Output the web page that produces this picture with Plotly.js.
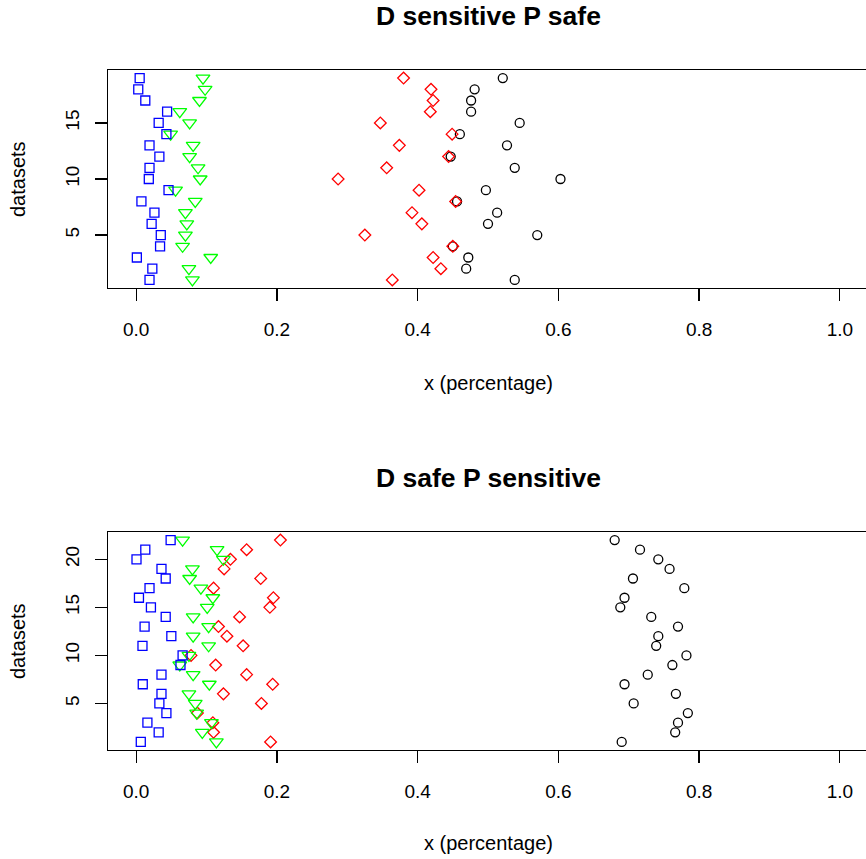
<!DOCTYPE html>
<html>
<head>
<meta charset="utf-8">
<script src="https://cdn.plot.ly/plotly-3.0.1.min.js"></script>
<style>
html, body { margin: 0; padding: 0; overflow: hidden; background: #fff; }
#chart { width: 880px; height: 859px; }
</style>
</head>
<body>
<div id="chart"></div>
<script>
// ---- data ----
const topTitle = "D sensitive P safe";
const bottomTitle = "D safe P sensitive";
const xTitle = "x (percentage)";
const yTitle = "datasets";

const topDatasets = [1,2,3,4,5,6,7,8,9,10,11,12,13,14,15,16,17,18,19];
const topBlue  = [0.019,0.023,0.001,0.034,0.035,0.022,0.026,0.0075,0.046,0.018,0.019,0.033,0.019,0.043,0.032,0.044,0.013,0.003,0.005];
const topGreen = [0.080,0.075,0.106,0.066,0.070,0.072,0.070,0.084,0.056,0.091,0.088,0.076,0.081,0.049,0.076,0.062,0.090,0.098,0.095];
const topRed   = [0.364,0.433,0.422,0.450,0.325,0.406,0.392,0.454,0.402,0.287,0.356,0.444,0.374,0.449,0.347,0.418,0.422,0.419,0.380];
const topBlack = [0.538,0.469,0.472,0.450,0.570,0.500,0.513,0.456,0.497,0.603,0.538,0.447,0.527,0.460,0.545,0.476,0.476,0.481,0.521];

const botDatasets = [1,2,3,4,5,6,7,8,9,10,11,12,13,14,15,16,17,18,19,20,21,22];
const botBlue  = [0.0066,0.032,0.016,0.043,0.033,0.036,0.0094,0.036,0.063,0.066,0.009,0.050,0.012,0.042,0.021,0.004,0.019,0.042,0.036,0.0005,0.013,0.049];
const botGreen = [0.114,0.094,0.107,0.086,0.084,0.075,0.104,0.081,0.062,0.075,0.103,0.081,0.103,0.081,0.101,0.109,0.092,0.076,0.080,0.124,0.115,0.066];
const botRed   = [0.191,0.110,0.109,0.087,0.178,0.124,0.194,0.157,0.113,0.078,0.152,0.129,0.117,0.147,0.190,0.195,0.110,0.177,0.125,0.134,0.157,0.205];
const botBlack = [0.690,0.766,0.770,0.784,0.707,0.767,0.694,0.727,0.762,0.782,0.739,0.742,0.770,0.732,0.688,0.694,0.779,0.706,0.758,0.742,0.716,0.680];

const xTicks = [0.0,0.2,0.4,0.6,0.8,1.0];
const xTickText = ["0.0","0.2","0.4","0.6","0.8","1.0"];
const topYTicks = [5,10,15];
const botYTicks = [5,10,15,20];

// ---- traces ----
const LW = 1.3;
function tr(x, y, symbol, color, size, xa, ya) {
  return {
    type: "scatter", mode: "markers", x: x, y: y, xaxis: xa, yaxis: ya,
    marker: { symbol: symbol, size: size, color: color,
              line: { color: color, width: LW } },
    hoverinfo: "skip", showlegend: false
  };
}
const data = [
  tr(topBlack, topDatasets, "circle-open", "#000000", 9, "x", "y"),
  tr(topRed, topDatasets, "diamond-open", "#FF0000", 9, "x", "y"),
  tr(topGreen, topDatasets, "triangle-down-open", "#00FF00", 12, "x", "y"),
  tr(topBlue, topDatasets, "square-open", "#0000FF", 9, "x", "y"),
  tr(botBlack, botDatasets, "circle-open", "#000000", 9, "x2", "y2"),
  tr(botRed, botDatasets, "diamond-open", "#FF0000", 9, "x2", "y2"),
  tr(botGreen, botDatasets, "triangle-down-open", "#00FF00", 12, "x2", "y2"),
  tr(botBlue, botDatasets, "square-open", "#0000FF", 9, "x2", "y2")
];

const FONT = "Liberation Sans, Arial, Helvetica, sans-serif";
function xaxis(anchor) {
  return {
    anchor: anchor, domain: [0, 1], range: [-0.04, 1.04],
    tickmode: "array", tickvals: xTicks, ticktext: xTickText,
    ticks: "outside", ticklen: 12, tickwidth: 1.3, tickcolor: "#000",
    showline: true, mirror: true, linecolor: "#000", linewidth: 1,
    showgrid: false, zeroline: false,
    tickfont: { family: FONT, size: 19, color: "#000" },
    ticklabelstandoff: 12
  };
}
function yaxis(anchor, domain, range, ticks) {
  return {
    anchor: anchor, domain: domain, range: range,
    tickmode: "array", tickvals: ticks,
    ticks: "outside", ticklen: 12, tickwidth: 1.3, tickcolor: "#000",
    showline: true, mirror: true, linecolor: "#000", linewidth: 1,
    showgrid: false, zeroline: false, tickangle: -90,
    tickfont: { family: FONT, size: 19, color: "#000" },
    ticklabelstandoff: 8
  };
}

function ann(text, x, y, size, bold, angle) {
  return {
    text: bold ? "<b>" + text + "</b>" : text,
    xref: "paper", yref: "paper", x: x, y: y,
    xanchor: "center", yanchor: "middle", showarrow: false,
    textangle: angle || 0,
    font: { family: FONT, size: size, color: "#000" }
  };
}

const layout = {
  width: 880, height: 859,
  margin: { l: 108, r: 12, t: 70, b: 109, pad: 0 },
  paper_bgcolor: "#fff", plot_bgcolor: "#fff",
  showlegend: false,
  xaxis: xaxis("y"),
  yaxis: yaxis("x", [0.6794, 1], [0.28, 19.72], topYTicks),
  xaxis2: xaxis("y2"),
  yaxis2: yaxis("x2", [0, 0.3206], [0.16, 22.84], botYTicks),
  annotations: [
    ann(topTitle, 0.5, 1.079, 26.5, true),
    ann(bottomTitle, 0.5, 0.400, 26.5, true),
    ann(xTitle, 0.5, 0.5397, 20, false),
    ann(xTitle, 0.5, -0.1368, 20, false),
    ann(yTitle, -0.1184, 0.8397, 20, false, -90),
    ann(yTitle, -0.1184, 0.1603, 20, false, -90)
  ]
};

Plotly.newPlot("chart", data, layout, { staticPlot: true, displayModeBar: false });
</script>
</body>
</html>
